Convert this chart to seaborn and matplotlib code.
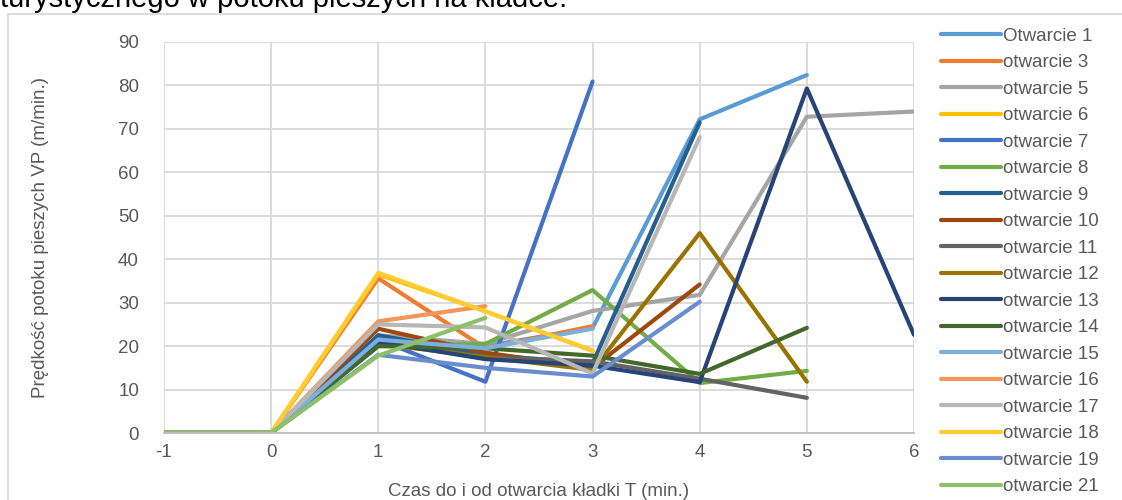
import numpy as np
import pandas as pd
import matplotlib
matplotlib.use("Agg")
import matplotlib.pyplot as plt
import seaborn as sns
from matplotlib.patches import Rectangle

nan = np.nan
x_vals = [-1, 0, 1, 2, 3, 4, 5, 6]

series_names = ["Otwarcie 1", "otwarcie 3", "otwarcie 5", "otwarcie 6", "otwarcie 7",
                "otwarcie 8", "otwarcie 9", "otwarcie 10", "otwarcie 11", "otwarcie 12",
                "otwarcie 13", "otwarcie 14", "otwarcie 15", "otwarcie 16", "otwarcie 17",
                "otwarcie 18", "otwarcie 19", "otwarcie 21"]

s1 = [0, 0, 22.0, 20.0, 24.2, 72.2, 82.4, nan]
s3 = [0, 0, 35.6, 19.5, 24.6, nan, nan, nan]
s5 = [0, 0, 22.5, 20.5, 28.1, 31.8, 72.8, 74.0]
s6 = [0, 0, 36.5, 28.0, 18.9, nan, nan, nan]
s7 = [0, 0, 21.5, 11.8, 80.9, nan, nan, nan]
s8 = [0, 0, 20.0, 20.5, 32.9, 11.5, 14.3, nan]
s9 = [0, 0, 22.5, 18.0, 16.0, 71.5, nan, nan]
s10 = [0, 0, 24.0, 18.5, 15.0, 34.2, nan, nan]
s11 = [0, 0, 21.0, 17.5, 16.5, 12.5, 8.1, nan]
s12 = [0, 0, 20.5, 17.5, 14.5, 46.0, 11.8, nan]
s13 = [0, 0, 21.0, 17.0, 15.5, 11.7, 79.3, 22.6]
s14 = [0, 0, 20.0, 19.5, 17.8, 13.6, 24.2, nan]
s15 = [0, 0, 21.5, 19.5, 24.0, nan, nan, nan]
s16 = [0, 0, 25.7, 29.2, nan, nan, nan, nan]
s17 = [0, 0, 25.0, 24.3, 13.7, 68.1, nan, nan]
s18 = [0, 0, 36.9, 28.0, 19.0, nan, nan, nan]
s19 = [0, 0, 18.0, 15.0, 13.0, 30.2, nan, nan]
s21 = [0, 0, 17.8, 26.5, nan, nan, nan, nan]

all_series = [s1, s3, s5, s6, s7, s8, s9, s10, s11, s12, s13, s14, s15, s16, s17, s18, s19, s21]

colors = ["#5B9BD5", "#ED7D31", "#A5A5A5", "#FFC000", "#4472C4", "#70AD47", "#255E91",
          "#9E480E", "#636363", "#997300", "#264478", "#43682B", "#7CAFDD", "#F1975A",
          "#B7B7B7", "#FFCD33", "#698ED0", "#8CC168"]

y_ticks = [0, 10, 20, 30, 40, 50, 60, 70, 80, 90]
x_ticks = [-1, 0, 1, 2, 3, 4, 5, 6]

rows = []
for name, vals in zip(series_names, all_series):
    for xv, yv in zip(x_vals, vals):
        rows.append({"T": xv, "VP": yv, "seria": name})
df = pd.DataFrame(rows).dropna()

sns.set_theme(style="white")
plt.rcParams['font.family'] = ['Liberation Sans', 'DejaVu Sans']
plt.rcParams['axes.unicode_minus'] = False

fig = plt.figure(figsize=(11.22, 5.0), dpi=100)
ax = fig.add_axes([164/1122, 67/500, 750/1122, 391/500])

text_col = "#595959"
sns.lineplot(data=df, x="T", y="VP", hue="seria", hue_order=series_names,
             palette=dict(zip(series_names, colors)), linewidth=3, ax=ax,
             sort=False, estimator=None, legend=False)

ax.set_xlim(-1, 6)
ax.set_ylim(0, 90)
ax.set_xticks(x_ticks)
ax.set_yticks(y_ticks)
ax.grid(True, color="#D9D9D9", linewidth=1.3)
ax.set_axisbelow(True)
for side in ["top", "right", "left"]:
    ax.spines[side].set_visible(False)
ax.spines["bottom"].set_color("#BFBFBF")
ax.spines["bottom"].set_linewidth(1.3)
ax.tick_params(axis="both", colors=text_col, labelsize=13.5, length=0)
ax.tick_params(axis="y", pad=18)
ax.tick_params(axis="x", pad=8)
ax.set_xlabel("Czas do i od otwarcia kładki T (min.)", color=text_col, fontsize=13.5, labelpad=16)
ax.set_ylabel("Prędkość potoku pieszych VP (m/min.)", color=text_col, fontsize=13.5, labelpad=50)

handles = [plt.Line2D([0], [0], color=c, lw=3) for c in colors]
leg = fig.legend(handles, series_names, loc="upper left",
                 bbox_to_anchor=(933/1122, 1 - 20/500), frameon=False,
                 fontsize=13.5, handlelength=3.2, handletextpad=0.15,
                 labelspacing=0.5, borderaxespad=0)
for t in leg.get_texts():
    t.set_color(text_col)

fig.patches.append(Rectangle((8/1122, -0.01), 1.2, 1 - 14/500 + 0.01,
                             transform=fig.transFigure, fill=False,
                             edgecolor="#D9D9D9", linewidth=1.3))
fig.text(0.0, 1 - 7/500, "turystycznego w potoku pieszych na kładce.",
         fontsize=21, color="black", va="baseline", ha="left")

fig.savefig("out.png", dpi=100)
